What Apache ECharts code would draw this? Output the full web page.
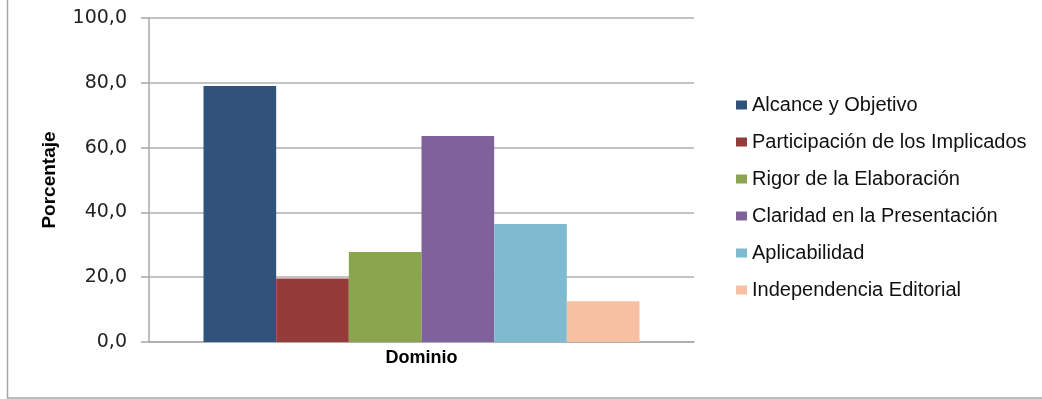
<!DOCTYPE html>
<html>
<head>
<meta charset="utf-8">
<script src="https://cdn.jsdelivr.net/npm/echarts@6/dist/echarts.min.js"></script>
<style>html,body{margin:0;padding:0;background:#fff;}#c{width:1042px;height:399px;}</style>
</head>
<body>
<div id="c"></div>
<script>
var categories = ['Dominio'];
var seriesNames = ['Alcance y Objetivo', 'Participación de los Implicados', 'Rigor de la Elaboración', 'Claridad en la Presentación', 'Aplicabilidad', 'Independencia Editorial'];
var seriesValues = [79.0, 19.6, 27.8, 63.6, 36.4, 12.6];
var seriesColors = ['#31527A', '#953B39', '#8AA54E', '#7F629B', '#7FBBD0', '#F8C0A2'];
var yTicks = [0, 20, 40, 60, 80, 100];

var chart = echarts.init(document.getElementById('c'), null, {renderer: 'canvas'});
var series = seriesNames.map(function (n, i) {
  return {
    name: n,
    type: 'bar',
    data: [seriesValues[i]],
    itemStyle: {color: seriesColors[i]},
    barGap: '0%',
    barCategoryGap: '20%'
  };
});
chart.setOption({
  animation: false,
  backgroundColor: '#fff',
  grid: {left: 149, right: 348, top: 18, bottom: 57},
  xAxis: {
    type: 'category',
    data: categories,
    axisLine: {show: true, lineStyle: {color: '#A8A8A8', width: 1.5}},
    axisTick: {show: false},
    axisLabel: {color: '#000', fontFamily: 'Liberation Sans', fontWeight: 'bold', fontSize: 18, margin: 7}
  },
  yAxis: {
    type: 'value',
    min: yTicks[0],
    max: yTicks[yTicks.length - 1],
    interval: 20,
    name: 'Porcentaje',
    nameLocation: 'middle',
    nameRotate: 90,
    nameGap: 90,
    nameTextStyle: {color: '#000', fontFamily: 'Liberation Sans', fontWeight: 'bold', fontSize: 19},
    axisLine: {show: true, lineStyle: {color: '#A8A8A8', width: 1.5}},
    axisTick: {show: true, length: 8, lineStyle: {color: '#A8A8A8', width: 1.5}},
    axisLabel: {
      color: '#222', fontFamily: 'DejaVu Sans', fontSize: 19, margin: 22,
      formatter: function (v) { return v.toFixed(1).replace('.', ','); }
    },
    splitLine: {show: true, lineStyle: {color: '#AFAFAF', width: 1.5}}
  },
  legend: {
    orient: 'vertical',
    left: 731,
    top: 90,
    itemWidth: 11,
    itemHeight: 9,
    itemGap: 17,
    icon: 'rect',
    data: seriesNames,
    textStyle: {color: '#111', fontFamily: 'Liberation Sans', fontSize: 20, lineHeight: 20}
  },
  graphic: [{
    type: 'rect',
    silent: true,
    shape: {x: 7.5, y: -5, width: 1100, height: 403},
    style: {fill: 'none', stroke: '#A6A6A6', lineWidth: 1.5}
  }],
  series: series
});
</script>
</body>
</html>
